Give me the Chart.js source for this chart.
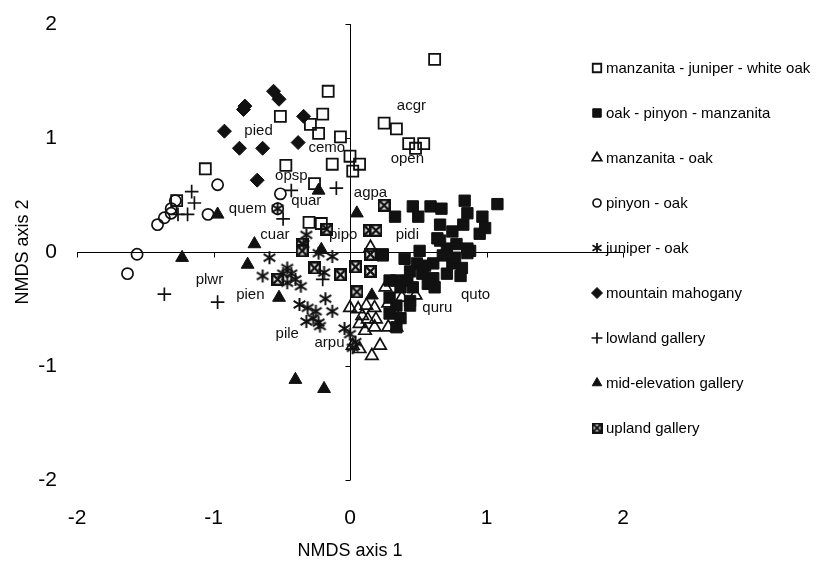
<!DOCTYPE html>
<html>
<head>
<meta charset="utf-8">
<script src="https://cdn.jsdelivr.net/npm/chart.js@4.4.1/dist/chart.umd.min.js"></script>
<style>
html, body { margin: 0; padding: 0; background: #fff; }
#wrap { position: relative; width: 817px; height: 568px; }
</style>
</head>
<body>
<div id="wrap"><canvas id="c"></canvas></div>
<script>
// --- data (NMDS site scores) ---
const groupNames = ['manzanita - juniper - white oak', 'oak - pinyon - manzanita', 'manzanita - oak',
  'pinyon - oak', 'juniper - oak', 'mountain mahogany', 'lowland gallery', 'mid-elevation gallery', 'upland gallery'];

const mjwX = [0.62, -0.16, -0.51, -0.20, -0.29, -0.23, -0.07, 0.25, 0.34, 0.43, 0.54, 0.48, -1.06, -0.47, -0.13, 0.00, 0.07, 0.02, -0.26, -1.27, -0.30, -0.21];
const mjwY = [1.69, 1.41, 1.19, 1.21, 1.12, 1.04, 1.01, 1.13, 1.08, 0.95, 0.95, 0.91, 0.73, 0.76, 0.77, 0.84, 0.77, 0.71, 0.60, 0.45, 0.26, 0.25];

const opmX = [0.33, 0.46, 0.50, 0.59, 0.67, 0.84, 0.86, 1.08, 0.97, 0.99, 0.66, 0.64, 0.75, 0.83, 0.78, 0.86, 0.71, 0.24, 0.88, 0.66, 0.95, 0.86,
  0.24, 0.49, 0.61, 0.75, 0.82, 0.81, 0.71, 0.61, 0.53, 0.44, 0.42, 0.34, 0.29, 0.37, 0.62, 0.46, 0.29, 0.34, 0.44, 0.29, 0.37, 0.44, 0.34,
  0.55, 0.68, 0.77, 0.51, 0.40, 0.57];
const opmY = [0.31, 0.40, 0.31, 0.40, 0.38, 0.45, 0.34, 0.42, 0.31, 0.21, 0.24, 0.12, 0.18, 0.24, 0.07, 0.03, 0.03, -0.02, 0.01, 0.10, 0.16, -0.01,
  -0.03, -0.10, -0.10, -0.10, -0.14, -0.21, -0.19, -0.23, -0.19, -0.17, -0.25, -0.25, -0.25, -0.31, -0.31, -0.31, -0.40, -0.47, -0.43, -0.54, -0.58, -0.47, -0.66,
  -0.12, -0.03, -0.05, 0.01, -0.06, -0.28];

const moX = [0.26, 0.00, 0.06, 0.12, 0.18, 0.13, 0.18, 0.07, 0.11, 0.22, 0.16, 0.07, 0.02, 0.28, 0.34, 0.28, 0.38, 0.48, 0.15, 0.19, 0.33, 0.09];
const moY = [-0.31, -0.49, -0.50, -0.47, -0.49, -0.59, -0.66, -0.63, -0.69, -0.82, -0.91, -0.85, -0.82, -0.66, -0.66, -0.45, -0.40, -0.38, 0.04, -0.59, -0.54, -0.56];

const poX = [-0.97, -1.28, -1.31, -1.31, -1.36, -1.41, -1.04, -0.51, -0.53, -1.56, -1.63];
const poY = [0.59, 0.45, 0.38, 0.34, 0.30, 0.24, 0.33, 0.51, 0.38, -0.02, -0.19];

const joX = [-0.53, -0.32, -0.34, -0.23, -0.13, -0.59, -0.64, -0.46, -0.49, -0.43, -0.40, -0.36, -0.46, -0.19, -0.18, -0.37, -0.31, -0.25, -0.13,
  -0.32, -0.23, -0.22, -0.27, 0.00, 0.04, 0.02, -0.04];
const joY = [0.38, 0.15, 0.07, -0.01, -0.04, -0.05, -0.21, -0.14, -0.19, -0.19, -0.24, -0.30, -0.27, -0.18, -0.41, -0.46, -0.49, -0.52, -0.52,
  -0.61, -0.62, -0.65, -0.58, -0.72, -0.79, -0.84, -0.67];

const mmX = [-0.56, -0.52, -0.78, -0.34, -0.92, -0.81, -0.64, -0.38, -0.68, -0.77];
const mmY = [1.41, 1.34, 1.25, 1.19, 1.06, 0.91, 0.91, 0.96, 0.63, 1.28];

const lgX = [-1.16, -1.14, -1.19, -1.26, -0.43, -0.10, -0.49, -1.36, -0.97, -0.20];
const lgY = [0.53, 0.43, 0.33, 0.33, 0.54, 0.56, 0.29, -0.37, -0.44, -0.24];

const megX = [-0.23, -0.97, -0.70, -0.21, 0.05, -1.23, -0.75, -0.52, -0.40, -0.19, 0.16];
const megY = [0.54, 0.33, 0.07, 0.02, 0.34, -0.05, -0.11, -0.40, -1.12, -1.20, -0.38];

const ugX = [0.25, 0.14, 0.19, -0.17, 0.15, -0.26, -0.07, 0.04, 0.15, 0.05, -0.35, -0.53, -0.35];
const ugY = [0.41, 0.19, 0.19, 0.20, -0.02, -0.14, -0.20, -0.13, -0.17, -0.35, 0.07, -0.24, 0.01];

// species vectors (label positions)
const spNames = ['pied', 'cemo', 'opsp', 'quar', 'quem', 'cuar', 'pipo', 'agpa', 'acgr', 'open', 'pidi', 'plwr', 'pien', 'pile', 'arpu', 'quru', 'quto'];
const spX = [-0.67, -0.17, -0.43, -0.32, -0.75, -0.55, -0.05, 0.15, 0.45, 0.42, 0.42, -1.03, -0.73, -0.46, -0.15, 0.64, 0.92];
const spY = [1.06, 0.91, 0.67, 0.45, 0.38, 0.15, 0.15, 0.52, 1.28, 0.82, 0.15, -0.24, -0.38, -0.72, -0.80, -0.49, -0.38];

const axisTicks = [-2, -1, 0, 1, 2];

const FONT = '"Liberation Sans", Arial, sans-serif';
const INK = '#111';

// asterisk marker (Excel "star")
function makeStar(s, lw) {
  const c = document.createElement('canvas');
  c.width = c.height = s;
  const g = c.getContext('2d');
  const m = s / 2, a = s / 2 - 1;
  g.strokeStyle = INK; g.lineWidth = lw;
  g.beginPath();
  g.moveTo(m, m - a); g.lineTo(m, m + a);
  g.moveTo(m - a * 0.9, m - a * 0.55); g.lineTo(m + a * 0.9, m + a * 0.55);
  g.moveTo(m + a * 0.9, m - a * 0.55); g.lineTo(m - a * 0.9, m + a * 0.55);
  g.stroke();
  return c;
}

// boxed x marker
function makeBoxX(s, lw) {
  const c = document.createElement('canvas');
  c.width = c.height = s;
  const g = c.getContext('2d');
  g.fillStyle = '#fff'; g.fillRect(0, 0, s, s);
  g.strokeStyle = INK; g.lineWidth = lw;
  g.strokeRect(lw / 2, lw / 2, s - lw, s - lw);
  g.beginPath();
  g.moveTo(lw, lw); g.lineTo(s - lw, s - lw);
  g.moveTo(s - lw, lw); g.lineTo(lw, s - lw);
  g.stroke();
  return c;
}

const starBig = makeStar(15, 2), starSmall = makeStar(12, 1.8);
const boxBig = makeBoxX(13, 2.4), boxSmall = makeBoxX(11, 2.2);

const none = 'rgba(0,0,0,0)';
const styles = [
  { pointStyle: 'rect', r: 7.8, fill: none, bw: 1.8, lr: 6 },
  { pointStyle: 'rect', r: 8, fill: INK, bw: 1, lr: 6 },
  { pointStyle: 'triangle', r: 7.2, fill: none, bw: 1.7, lr: 5.5 },
  { pointStyle: 'circle', r: 5.6, fill: none, bw: 1.7, lr: 4 },
  { pointStyle: starBig, legend: starSmall },
  { pointStyle: 'rectRot', r: 7, fill: INK, bw: 1, lr: 5.5 },
  { pointStyle: 'cross', r: 6.8, fill: none, bw: 1.7, lr: 5.5 },
  { pointStyle: 'triangle', r: 7.4, fill: INK, bw: 1, lr: 5.5 },
  { pointStyle: boxBig, legend: boxSmall }
];

const series = [[mjwX, mjwY], [opmX, opmY], [moX, moY], [poX, poY], [joX, joY], [mmX, mmY], [lgX, lgY], [megX, megY], [ugX, ugY]];

const datasets = series.map(([xs, ys], i) => {
  const st = styles[i];
  return {
    label: groupNames[i],
    data: xs.map((x, k) => ({ x: x, y: ys[k] })),
    pointStyle: st.pointStyle,
    pointRadius: st.r || 7,
    backgroundColor: st.fill || INK,
    borderColor: INK,
    borderWidth: st.bw || 1,
    showLine: false
  };
});

const legendX = 597, legendTop = 68, legendGap = 45;

const overlay = {
  id: 'overlay',
  beforeDatasetsDraw(chart) {
    const { ctx, scales: { x, y } } = chart;
    ctx.save();
    // legend
    ctx.font = '15px ' + FONT;
    ctx.textBaseline = 'middle';
    ctx.textAlign = 'left';
    groupNames.forEach((name, i) => {
      const ly = legendTop + i * legendGap;
      const st = styles[i];
      if (typeof st.pointStyle === 'string') {
        ctx.fillStyle = st.fill;
        ctx.strokeStyle = INK;
        ctx.lineWidth = st.bw;
        Chart.helpers.drawPoint(ctx, { pointStyle: st.pointStyle, radius: st.lr, rotation: 0, borderWidth: st.bw }, legendX, ly);
      } else {
        ctx.drawImage(st.legend, legendX - st.legend.width / 2, ly - st.legend.height / 2);
      }
      ctx.fillStyle = '#000';
      ctx.fillText(name, legendX + 9, ly + 1);
    });
    // axes crossing at zero
    const x0 = Math.round(x.getPixelForValue(0)) + 0.5;
    const y0 = Math.round(y.getPixelForValue(0)) + 0.5;
    ctx.strokeStyle = '#000';
    ctx.lineWidth = 1;
    ctx.beginPath();
    ctx.moveTo(x.left, y0); ctx.lineTo(x.right, y0);
    ctx.moveTo(x0, y.top); ctx.lineTo(x0, y.bottom);
    axisTicks.forEach(v => {
      if (v === 0) return;
      const px = Math.round(x.getPixelForValue(v)) + 0.5;
      ctx.moveTo(px, y0); ctx.lineTo(px, y0 + 5);
      const py = Math.round(y.getPixelForValue(v)) + 0.5;
      ctx.moveTo(x0 - 5, py); ctx.lineTo(x0, py);
    });
    ctx.stroke();
    ctx.restore();
  },
  afterDatasetsDraw(chart) {
    const { ctx, scales: { x, y } } = chart;
    ctx.save();
    ctx.font = '15px ' + FONT;
    ctx.fillStyle = INK;
    ctx.textAlign = 'center';
    ctx.textBaseline = 'middle';
    spNames.forEach((n, i) => {
      ctx.fillText(n, x.getPixelForValue(spX[i]), y.getPixelForValue(spY[i]));
    });
    ctx.restore();
  }
};

new Chart(document.getElementById('c'), {
  type: 'scatter',
  data: { datasets: datasets },
  options: {
    responsive: true,
    maintainAspectRatio: false,
    animation: false,
    events: [],
    layout: { padding: { top: 24, right: 194, left: 0, bottom: 0 } },
    plugins: { legend: { display: false }, tooltip: { enabled: false } },
    scales: {
      x: {
        type: 'linear', min: -2, max: 2, position: 'bottom',
        afterBuildTicks: s => { s.ticks = axisTicks.map(v => ({ value: v })); },
        afterFit: s => { s.height = 88; s.paddingLeft = 0; s.paddingRight = 0; },
        grid: { display: false, drawTicks: false },
        border: { display: false },
        ticks: { padding: 26, color: '#000', font: { size: 21, family: FONT } },
        title: { display: true, text: 'NMDS axis 1', color: '#000', font: { size: 18, family: FONT }, padding: { top: 0, bottom: 6 } }
      },
      y: {
        type: 'linear', min: -2, max: 2, position: 'left',
        afterBuildTicks: s => { s.ticks = axisTicks.map(v => ({ value: v })); },
        afterFit: s => { s.width = 77; s.paddingTop = 0; s.paddingBottom = 0; },
        grid: { display: false, drawTicks: false },
        border: { display: false },
        ticks: { padding: 20, color: '#000', font: { size: 21, family: FONT } },
        title: { display: true, text: 'NMDS axis 2', color: '#000', font: { size: 18, family: FONT }, padding: { top: 12, bottom: 0 } }
      }
    }
  },
  plugins: [overlay]
});
</script>
</body>
</html>
